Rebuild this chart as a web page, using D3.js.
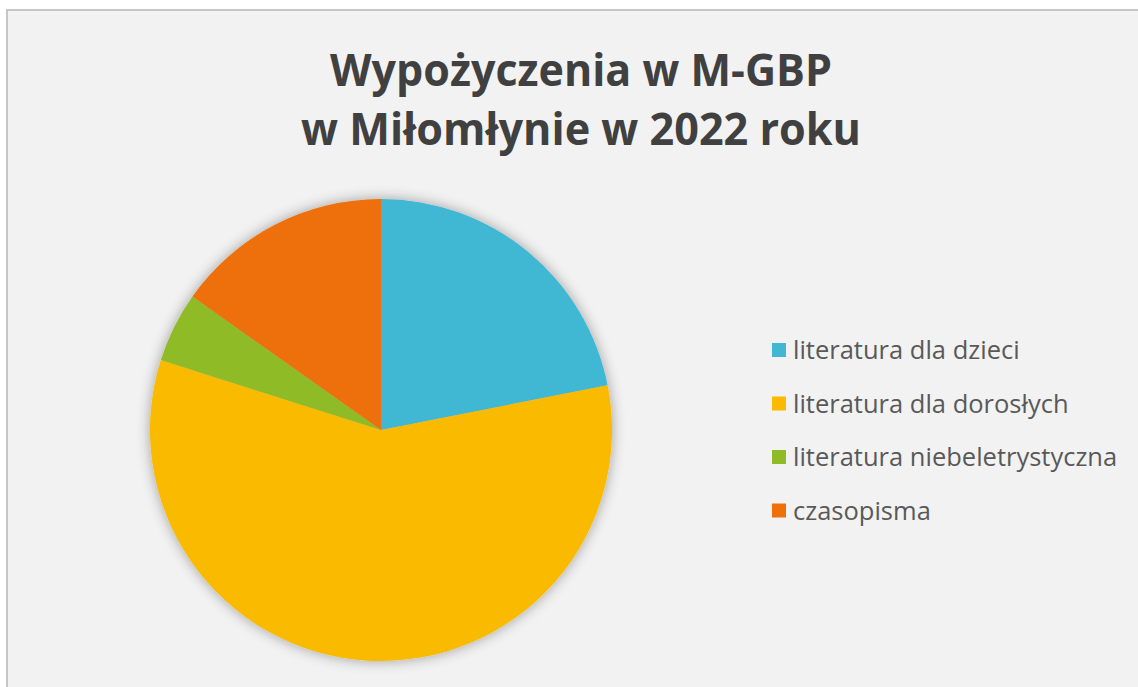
<!DOCTYPE html>
<html>
<head>
<meta charset="utf-8">
<script src="https://cdn.jsdelivr.net/npm/d3@7"></script>
<style>
  body { margin: 0; background: #fff; }
  svg { display: block; }
</style>
</head>
<body>
<div id="chart"></div>
<script>
const categories = ['literatura dla dzieci', 'literatura dla dorosłych', 'literatura niebeletrystyczna', 'czasopisma'];
const values = [21.9, 58.0, 4.9, 15.2];
const colors = ['#41b7d3', '#f9ba00', '#8fbb26', '#ee7008'];
const titleLines = ['Wypożyczenia w M-GBP', 'w Miłomłynie w 2022 roku'];

const width = 1138,
      height = 687;

const cx = 381, cy = 430, radius = 231;

const svg = d3.select('#chart')
              .append('svg')
              .attr('width', width)
              .attr('height', height);

const defs = svg.append('defs');
const shadow = defs.append('filter')
                   .attr('id', 'shadow')
                   .attr('x', '-20%').attr('y', '-20%')
                   .attr('width', '140%').attr('height', '140%');
shadow.append('feGaussianBlur').attr('in', 'SourceAlpha').attr('stdDeviation', 7);
shadow.append('feOffset').attr('dx', 0).attr('dy', 0).attr('result', 'blur');
shadow.append('feComponentTransfer').append('feFuncA').attr('type', 'linear').attr('slope', 0.35);
const merge = shadow.append('feMerge');
merge.append('feMergeNode');
merge.append('feMergeNode').attr('in', 'SourceGraphic');

// chart area frame
svg.append('rect')
   .attr('x', 7).attr('y', 10)
   .attr('width', width).attr('height', height)
   .attr('fill', '#f2f2f2')
   .attr('stroke', '#c6c6c6')
   .attr('stroke-width', 2);

svg.append('g')
   .selectAll('text')
   .data(titleLines)
   .enter()
   .append('text')
   .attr('x', 581)
   .attr('y', (d, i) => 86 + i * 59)
   .attr('text-anchor', 'middle')
   .attr('font-family', 'Open Sans, sans-serif')
   .attr('font-weight', 700)
   .attr('font-size', 44)
   .attr('textLength', (d, i) => i === 0 ? 502 : 560)
   .attr('lengthAdjust', 'spacingAndGlyphs')
   .attr('fill', '#404040')
   .text(d => d);

const pie = d3.pie().sort(null).value(d => d);
const arc = d3.arc().innerRadius(0).outerRadius(radius);

const pieG = svg.append('g')
                .attr('transform', `translate(${cx}, ${cy})`)
                .attr('filter', 'url(#shadow)');

pieG.selectAll('path')
    .data(pie(values))
    .enter()
    .append('path')
    .attr('d', arc)
    .attr('fill', (d, i) => colors[i]);

const legend = svg.append('g')
                  .selectAll('g')
                  .data(categories)
                  .enter()
                  .append('g')
                  .attr('transform', (d, i) => `translate(772, ${350 + i * 53.5})`);

legend.append('rect')
      .attr('x', 0).attr('y', -7)
      .attr('width', 14).attr('height', 14)
      .attr('fill', (d, i) => colors[i]);

legend.append('text')
      .attr('x', 21)
      .attr('y', 9)
      .attr('font-family', 'Open Sans, sans-serif')
      .attr('font-size', 25.5)
      .attr('fill', '#595959')
      .text(d => d);
</script>
</body>
</html>
